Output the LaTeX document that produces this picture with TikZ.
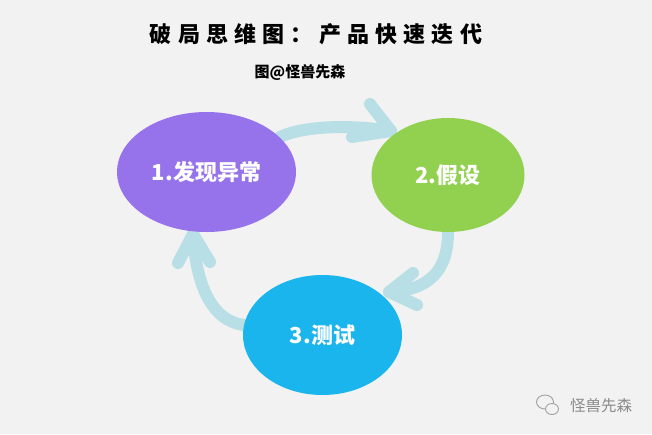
\documentclass[tikz,border=0pt]{standalone}
\usepackage{fontspec}
\setmainfont{Noto Sans CJK SC}
\newfontfamily\titlefont{Noto Sans CJK SC}[FakeBold=1.2]
\usetikzlibrary{shapes.geometric}
\pgfdeclarelayer{bg}\pgfdeclarelayer{arr}\pgfsetlayers{bg,arr,main}
\definecolor{bgc}{HTML}{F2F2F2}
\definecolor{pcol}{HTML}{9673EA}
\definecolor{gcol}{HTML}{92D050}
\definecolor{bcol}{HTML}{1BB5EE}
\definecolor{acol}{HTML}{B9DFE6}
\definecolor{wmcol}{HTML}{8A8A8A}
\tikzset{
  ell/.style={ellipse, draw=none, inner sep=0pt, text=white,
    font=\fontsize{22}{24}\selectfont\bfseries},
  flow/.style={draw=acol, line width=12pt, line cap=round, line join=round},
  wm/.style={draw=wmcol!80, line width=0.9pt}
}
\newcommand{\tsp}{\hspace{6.2pt}}
\begin{document}
\begin{tikzpicture}[x=1pt,y=-1pt]
\useasboundingbox (0,0) rectangle (652,434);
\begin{pgfonlayer}{bg}
\fill[bgc] (0,0) rectangle (652,434);
\end{pgfonlayer}

% title and credit
\node[inner sep=0pt, font=\fontsize{22}{24}\selectfont\bfseries] (title) at (316,34)
  {破\tsp 局\tsp 思\tsp 维\tsp 图\tsp ：\tsp 产\tsp 品\tsp 快\tsp 速\tsp 迭\tsp 代};
\node[inner sep=0pt, font=\fontsize{15}{17}\selectfont\bfseries] (credit) at (300,72) {图@怪兽先森};

% stages
\node[ell, fill=pcol, minimum width=179pt, minimum height=120pt] (p) at (206.5,172) {1.发现异常};
\node[ell, fill=gcol, minimum width=153pt, minimum height=114pt] (g) at (448,175) {2.假设};
\node[ell, fill=bcol, minimum width=159pt, minimum height=120pt] (b) at (322.5,335) {3.测试};

% arrow coordinates
\coordinate (t1) at (391,131);
\coordinate (t1u) at (370,104);
\coordinate (t1l) at (352,137);
\coordinate (t2) at (389,292);
\coordinate (t2u) at (413,273);
\coordinate (t2l) at (417,305);
\coordinate (t3) at (193,234);
\coordinate (t3u) at (178,263);
\coordinate (t3l) at (210,262);

\begin{pgfonlayer}{arr}
\draw[flow] (p) .. controls (305,125) and (355,125) .. (t1);
\draw[flow] (t1u) -- (t1) -- (t1l);
\draw[flow] (g) .. controls (448,270) and (430,290) .. (t2);
\draw[flow] (t2u) -- (t2) -- (t2l);
\draw[flow] (b) .. controls (205,320) and (195,270) .. (t3);
\draw[flow] (t3u) -- (t3) -- (t3l);
\end{pgfonlayer}

% watermark
\draw[wm, fill=bgc] (545,402) ellipse [x radius=8.5pt, y radius=7pt];
\draw[wm, fill=bgc] (552,409) ellipse [x radius=6.5pt, y radius=5.5pt];
\node[inner sep=0pt, text=wmcol, font=\fontsize{15.5}{17}\selectfont] (wmtext) at (601,406) {怪兽先森};
\end{tikzpicture}
\end{document}
